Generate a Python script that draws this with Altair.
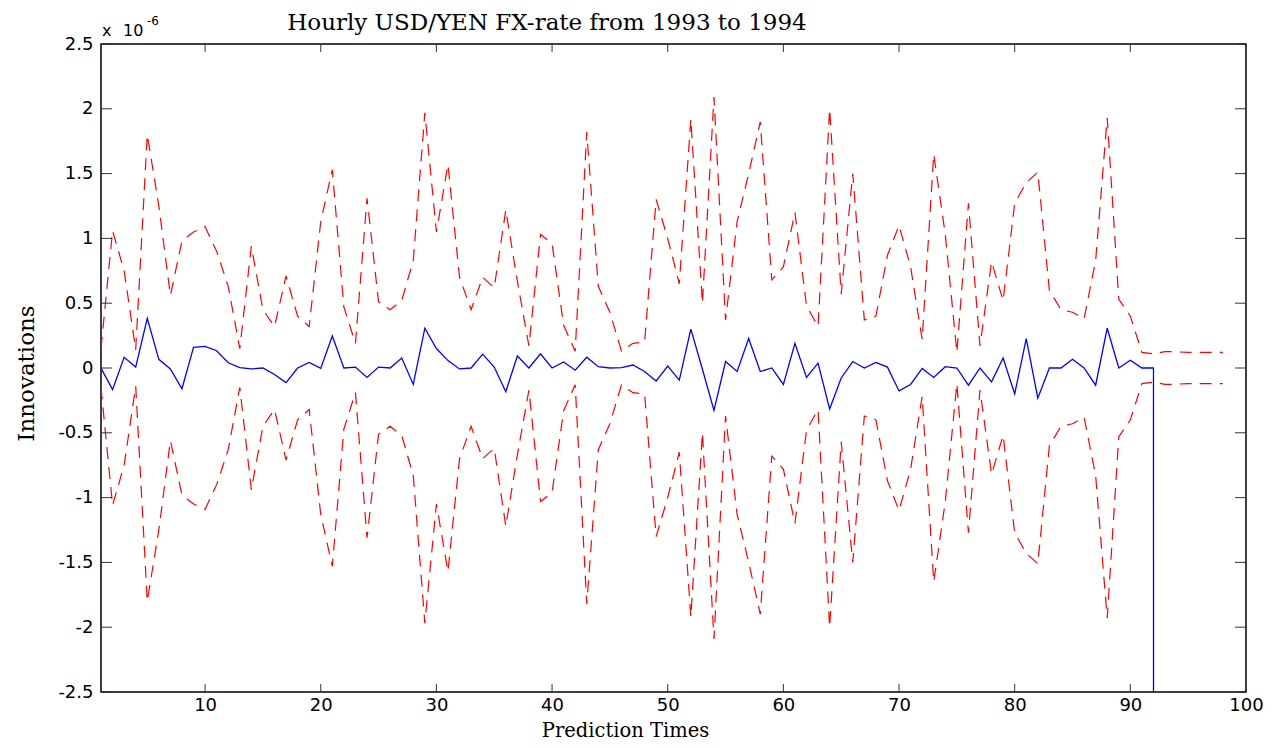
import altair as alt
import pandas as pd

# ---------------- data (values in units of 1e-6) ----------------
innov_x = list(range(1, 94))
innov_y = [
    0.0, -0.167, 0.083, 0.007, 0.383, 0.067, -0.007, -0.16, 0.16, 0.167,
    0.133, 0.04, 0.003, -0.007, 0.0, -0.05, -0.113, 0.0, 0.043, -0.003,
    0.247, 0.0, 0.007, -0.073, 0.007, 0.0, 0.077, -0.127, 0.307, 0.15,
    0.057, -0.007, 0.0, 0.107, 0.007, -0.183, 0.093, 0.0, 0.11, 0.0,
    0.047, -0.017, 0.083, 0.01, 0.0, 0.003, 0.023, -0.027, -0.1, 0.015,
    -0.093, 0.3, -0.01, -0.327, 0.05, -0.027, 0.227, -0.027, 0.0, -0.127,
    0.19, -0.073, 0.037, -0.317, -0.077, 0.05, 0.0, 0.043, 0.007, -0.177,
    -0.127, -0.003, -0.073, 0.01, 0.0, -0.133, 0.0, -0.107, 0.077, -0.2,
    0.227, -0.233, 0.0, 0.0, 0.067, 0.0, -0.133, 0.307, 0.0, 0.06,
    0.0, 0.0, -1000.0,
]

band_x = list(range(1, 99))
upper = [
    0.15, 1.06, 0.75, 0.14, 1.8, 1.25, 0.56, 0.98, 1.05, 1.09,
    0.9, 0.63, 0.15, 0.94, 0.45, 0.32, 0.71, 0.4, 0.32, 1.13,
    1.53, 0.47, 0.19, 1.31, 0.51, 0.45, 0.52, 0.83, 1.97, 1.05,
    1.57, 0.7, 0.45, 0.7, 0.62, 1.22, 0.67, 0.17, 1.03, 0.96,
    0.33, 0.13, 1.82, 0.63, 0.43, 0.13, 0.19, 0.2, 1.3, 1.0,
    0.65, 1.92, 0.5, 2.09, 0.37, 1.13, 1.5, 1.9, 0.68, 0.78,
    1.2, 0.48, 0.32, 2.0, 0.57, 1.5, 0.37, 0.4, 0.87, 1.1,
    0.78, 0.22, 1.65, 1.03, 0.12, 1.27, 0.17, 0.82, 0.52, 1.27,
    1.43, 1.51, 0.6, 0.45, 0.43, 0.38, 0.83, 1.93, 0.53, 0.4,
    0.12, 0.11, 0.127, 0.125, 0.12, 0.12, 0.12, 0.12,
]
lower = [
    -0.15, -1.06, -0.75, -0.14, -1.8, -1.25, -0.56, -0.98, -1.05, -1.09,
    -0.9, -0.63, -0.15, -0.94, -0.45, -0.32, -0.71, -0.4, -0.32, -1.13,
    -1.53, -0.47, -0.19, -1.31, -0.51, -0.45, -0.52, -0.83, -1.97, -1.05,
    -1.57, -0.7, -0.45, -0.7, -0.62, -1.22, -0.67, -0.17, -1.03, -0.96,
    -0.33, -0.13, -1.82, -0.63, -0.43, -0.13, -0.19, -0.2, -1.3, -1.0,
    -0.65, -1.92, -0.5, -2.09, -0.37, -1.13, -1.5, -1.9, -0.68, -0.78,
    -1.2, -0.48, -0.32, -2.0, -0.57, -1.5, -0.37, -0.4, -0.87, -1.1,
    -0.78, -0.22, -1.65, -1.03, -0.12, -1.27, -0.17, -0.82, -0.52, -1.27,
    -1.43, -1.51, -0.6, -0.45, -0.43, -0.38, -0.83, -1.93, -0.53, -0.4,
    -0.12, -0.11, -0.127, -0.125, -0.12, -0.12, -0.12, -0.12,
]

x_ticks = [10, 20, 30, 40, 50, 60, 70, 80, 90, 100]
y_ticks = [-2.5, -2, -1.5, -1, -0.5, 0, 0.5, 1, 1.5, 2, 2.5]

title_text = "Hourly USD/YEN FX-rate from 1993 to 1994"
x_title = "Prediction Times"
y_title = "Innovations"
exp_parts = ["x", "10", "-6"]

# ---------------- layout ----------------
W, H = 1145, 648
SERIF = "DejaVu Serif"
SANS = "DejaVu Sans"

innov_df = pd.DataFrame({"t": innov_x, "v": innov_y})
band_df = pd.concat([
    pd.DataFrame({"t": band_x, "v": upper, "s": "upper"}),
    pd.DataFrame({"t": band_x, "v": lower, "s": "lower"}),
])

xscale = alt.Scale(domain=[1, 100], nice=False, zero=False)
yscale = alt.Scale(domain=[-2.5, 2.5], nice=False, zero=False)

x_axis = alt.Axis(
    values=x_ticks, grid=False, ticks=False, domain=False,
    labelFont=SANS, labelFontSize=18, labelColor="black", labelPadding=4,
    labelFlush=False, labelOverlap=False,
    title=x_title, titleFont=SERIF, titleFontSize=19.5, titleFontWeight="normal",
    titleColor="black", titleX=524, titleY=44, titleBaseline="alphabetic",
    titleAlign="center",
)
y_axis = alt.Axis(
    values=y_ticks, grid=False, ticks=False, domain=False,
    labelFont=SANS, labelFontSize=18, labelColor="black", labelPadding=8,
    labelFlush=False, labelOverlap=False,
    labelExpr="datum.value < 0 ? '-' + format(-datum.value, '~g') : format(datum.value, '~g')",
    title=y_title, titleFont=SERIF, titleFontSize=23, titleFontWeight="normal",
    titleColor="black", titleX=-68, titleY=329, titleBaseline="alphabetic",
    titleAlign="center", titleAngle=270,
)

bands = alt.Chart(band_df).mark_line(
    color="#ff0000", strokeDash=[12, 8], strokeWidth=1.2, clip=True
).encode(
    x=alt.X("t:Q", scale=xscale, axis=x_axis),
    y=alt.Y("v:Q", scale=yscale, axis=y_axis),
    detail="s:N",
)

innov = alt.Chart(innov_df).mark_line(
    color="#0000ff", strokeWidth=1.3, clip=True
).encode(
    x=alt.X("t:Q", scale=xscale),
    y=alt.Y("v:Q", scale=yscale),
)

yt_df = pd.DataFrame({"v": y_ticks})
xt_df = pd.DataFrame({"t": x_ticks})
tick_color = "#333333"
left_ticks = alt.Chart(yt_df).mark_rule(color=tick_color, strokeWidth=1).encode(
    y=alt.Y("v:Q", scale=yscale), x=alt.value(0), x2=alt.value(11))
right_ticks = alt.Chart(yt_df).mark_rule(color=tick_color, strokeWidth=1).encode(
    y=alt.Y("v:Q", scale=yscale), x=alt.value(W - 11), x2=alt.value(W))
top_ticks = alt.Chart(xt_df).mark_rule(color=tick_color, strokeWidth=1).encode(
    x=alt.X("t:Q", scale=xscale), y=alt.value(0), y2=alt.value(8))
bottom_ticks = alt.Chart(xt_df).mark_rule(color=tick_color, strokeWidth=1).encode(
    x=alt.X("t:Q", scale=xscale), y=alt.value(H - 8), y2=alt.value(H))


def label(text, size, x, y, font=SANS, align="left"):
    return alt.Chart(pd.DataFrame({"s": [text]})).mark_text(
        font=font, fontSize=size, align=align, baseline="alphabetic", color="black"
    ).encode(text="s:N", x=alt.value(x), y=alt.value(y))


exp_x = label(exp_parts[0], 16, 1, -8)
exp_10 = label(exp_parts[1], 16, 22, -8)
exp_sup = label(exp_parts[2], 12, 46, -19)
title = label(title_text, 23, 446, -14, font=SERIF, align="center")

chart = alt.layer(
    bands, innov, left_ticks, right_ticks, top_ticks, bottom_ticks,
    exp_x, exp_10, exp_sup, title,
).properties(
    width=W, height=H,
    autosize=alt.AutoSizeParams(type="none"),
    padding={"left": 93, "top": 36, "right": 24, "bottom": 49},
    background="white",
).configure_view(
    stroke="black", strokeWidth=1.5
)

chart.save("out.html", embed_options={"renderer": "svg", "actions": False})
